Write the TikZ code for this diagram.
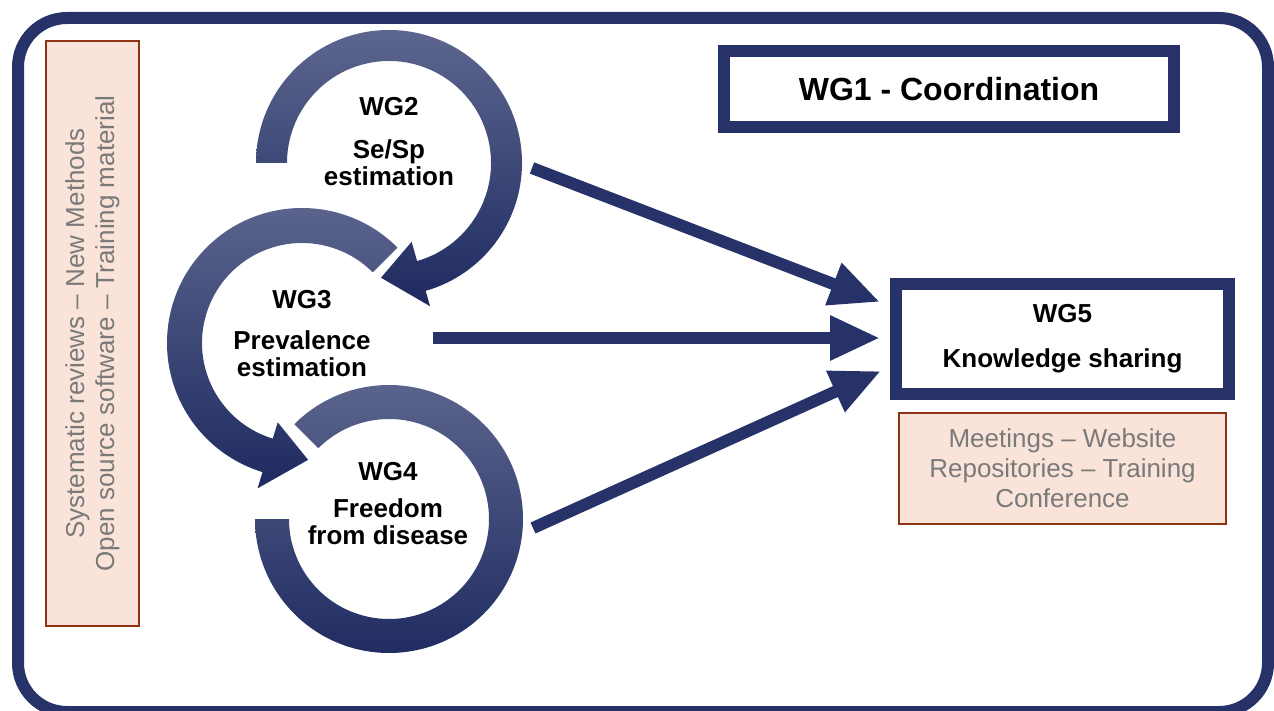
\documentclass[tikz,border=0pt]{standalone}
\usepackage{fontspec}
\setmainfont{Liberation Sans}
\usetikzlibrary{arrows.meta,positioning}

\definecolor{navy}{RGB}{38,50,104}
\definecolor{ringtop}{RGB}{92,102,142}
\definecolor{ringbot}{RGB}{30,42,96}
\definecolor{peach}{RGB}{250,228,218}
\definecolor{rust}{RGB}{140,52,20}
\definecolor{note}{RGB}{122,122,122}

\begin{document}
\begin{tikzpicture}[
  x=1pt, y=-1pt,
  wgbox/.style={draw=navy, line width=12pt, fill=white, align=center, font=\bfseries\fontsize{26}{27}\selectfont},
  notebox/.style={draw=rust, line width=2pt, fill=peach, text=note, align=center, font=\fontsize{26}{30}\selectfont},
  wgtext/.style={anchor=north, inner sep=0pt, align=center, font=\bfseries\fontsize{26}{27}\selectfont},
  ring/.style={top color=ringtop, bottom color=ringbot},
  flow/.style={draw=navy, line width=12pt, -{Triangle[length=50pt, width=42pt]}},
  node distance=12pt
]
\useasboundingbox (0,0) rectangle (1274,711);

% outer frame
\draw[navy, line width=12pt, rounded corners=49pt] (18,18) rectangle (1268,712);

% left notes (rotated)
\node[notebox, rotate=90, minimum width=585pt, minimum height=93pt] (tools) at (92.5,333.5)
  {Systematic reviews -- New Methods\\Open source software -- Training material};

% ring centres
\coordinate (c2) at (389,163);
\coordinate (c3) at (302,343);
\coordinate (c4) at (389,519);

% circular arrows
\shade[ring] ([shift={(225:134)}]c4) arc[start angle=225, end angle=540, radius=134]
  -- ([shift={(540:100)}]c4) arc[start angle=540, end angle=225, radius=100] -- cycle;
\shade[ring] ([shift={(315:135)}]c3) arc[start angle=315, end angle=107, radius=135]
  -- ([shift={(107:152)}]c3) -- ([shift={(87:117)}]c3) -- ([shift={(107:83)}]c3)
  -- ([shift={(107:100)}]c3) arc[start angle=107, end angle=315, radius=100] -- cycle;
\shade[ring] ([shift={(180:133)}]c2) arc[start angle=180, end angle=434, radius=133]
  -- ([shift={(434:149)}]c2) -- ([shift={(454:115)}]c2) -- ([shift={(434:82)}]c2)
  -- ([shift={(434:102)}]c2) arc[start angle=434, end angle=180, radius=102] -- cycle;

% ring labels
\node[wgtext] (wg2) at (389,97) {WG2\\[16pt]Se/Sp\\estimation};
\node[wgtext] (wg3) at (302,290) {WG3\\[14pt]Prevalence\\estimation};
\node[wgtext] (wg4) at (388,462) {WG4\\[10pt]Freedom\\from disease};

% boxes on the right
\node[wgbox, minimum width=450pt, minimum height=76pt, font=\bfseries\fontsize{32}{34}\selectfont] (wg1) at (949,89) {WG1 - Coordination};
\node[wgbox, minimum width=333pt, minimum height=110pt] (wg5) at (1062.5,339) {WG5\\[18pt]Knowledge sharing};
\node[notebox, below=12pt of wg5, minimum width=327pt, minimum height=111pt] (outreach)
  {Meetings -- Website\\Repositories -- Training\\Conference};

% arrows into WG5
\coordinate (o2) at (532,168);
\coordinate (o3) at (433,338);
\coordinate (o4) at (533,528);
\coordinate (t2) at ([xshift=-10pt, yshift=37pt]wg5.west);
\coordinate (t3) at ([xshift=-10pt, yshift=1pt]wg5.west);
\coordinate (t4) at ([xshift=-9pt, yshift=-32pt]wg5.west);
\foreach \a/\b in {o2/t2,o3/t3,o4/t4}
  \draw[flow] (\a) -- (\b);

\end{tikzpicture}
\end{document}
